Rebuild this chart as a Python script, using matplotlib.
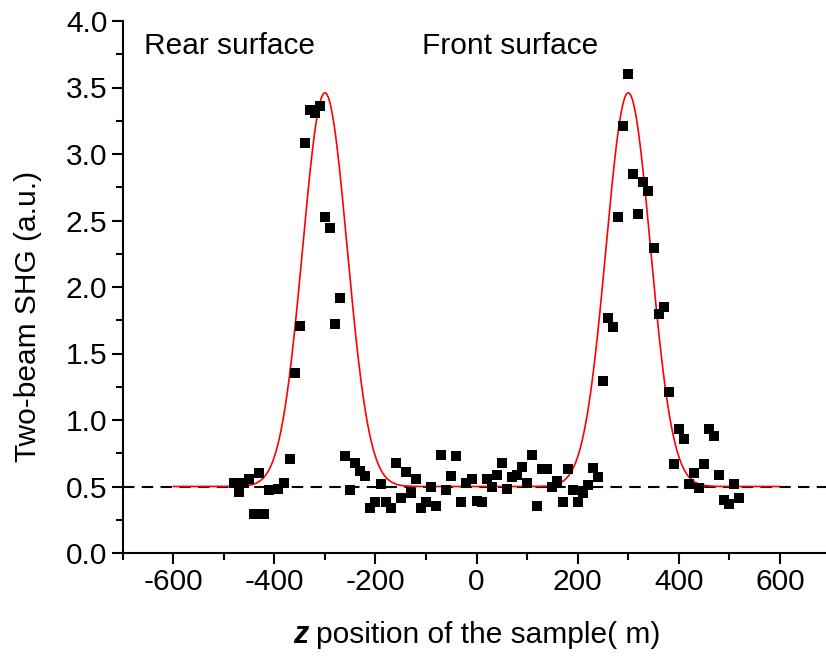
import numpy as np
import matplotlib
matplotlib.use("Agg")
import matplotlib.pyplot as plt
from matplotlib.ticker import MultipleLocator, FormatStrFormatter

plt.rcParams['font.family'] = ['Liberation Sans', 'DejaVu Sans']
plt.rcParams['axes.unicode_minus'] = False

# measured data (z in um, signal in a.u.)
z_pos = [-480, -470, -460, -450, -440, -430, -420, -410, -392, -380,
         -370, -360, -350, -340, -330, -320, -310, -300, -290, -280,
         -270, -260, -250, -240, -230, -220, -210, -200, -190, -180,
         -170, -160, -150, -140, -130, -120, -110, -100, -90, -80,
         -70, -60, -50, -40, -30, -20, -10, 0, 10, 20,
         30, 40, 50, 60, 70, 80, 90, 100, 110, 120,
         130, 140, 150, 160, 170, 180, 190, 200, 210, 220,
         230, 240, 250, 260, 270, 280, 290, 300, 310, 320,
         330, 340, 350, 360, 370, 380, 390, 400, 410, 420,
         430, 440, 450, 460, 470, 480, 490, 500, 510, 520]
shg = [0.53, 0.46, 0.53, 0.56, 0.29, 0.60, 0.29, 0.47, 0.48, 0.53,
       0.71, 1.35, 1.71, 3.08, 3.33, 3.31, 3.36, 2.53, 2.44, 1.72,
       1.92, 0.73, 0.47, 0.68, 0.62, 0.58, 0.34, 0.38, 0.52, 0.38,
       0.34, 0.68, 0.41, 0.61, 0.45, 0.56, 0.34, 0.38, 0.50, 0.35,
       0.74, 0.47, 0.58, 0.73, 0.38, 0.53, 0.56, 0.39, 0.38, 0.56,
       0.50, 0.59, 0.68, 0.48, 0.57, 0.59, 0.65, 0.53, 0.74, 0.35,
       0.63, 0.63, 0.50, 0.54, 0.38, 0.63, 0.47, 0.38, 0.45, 0.51,
       0.64, 0.57, 1.29, 1.77, 1.70, 2.53, 3.21, 3.60, 2.85, 2.55,
       2.79, 2.72, 2.29, 1.80, 1.85, 1.21, 0.67, 0.93, 0.86, 0.52,
       0.60, 0.49, 0.67, 0.93, 0.88, 0.59, 0.40, 0.37, 0.52, 0.41]

# gaussian fit parameters
baseline = 0.5
peak_centers = [-300, 300]
peak_amp = 2.96
peak_sigma = 44
fit_range = (-600, 600)

labels = ["Rear surface", "Front surface"]
label_x = [-658, -108]
label_y = 3.81

fig = plt.figure(figsize=(8.26, 6.62), dpi=100)
ax = fig.add_axes([122.7 / 826, 1 - 553 / 662, (830.5 - 122.7) / 826, (553 - 21) / 662])

zf = np.linspace(fit_range[0], fit_range[1], 1200)
fit = baseline + sum(peak_amp * np.exp(-(zf - c) ** 2 / (2 * peak_sigma ** 2)) for c in peak_centers)

ax.axhline(baseline, color='black', lw=1.5, ls=(0, (5.5, 3.5)), zorder=1)
ax.plot(zf, fit, color='red', lw=1.2, zorder=2)
ax.plot(z_pos, shg, 's', color='black', ms=7.3, mew=0, zorder=3)

for t, x in zip(labels, label_x):
    ax.text(x, label_y, t, fontsize=21.5, va='center', ha='left')

ax.set_xlim(-700, 700)
ax.set_ylim(0, 4.0)
ax.xaxis.set_major_locator(MultipleLocator(200))
ax.xaxis.set_minor_locator(MultipleLocator(100))
ax.yaxis.set_major_locator(MultipleLocator(0.5))
ax.yaxis.set_minor_locator(MultipleLocator(0.25))
ax.yaxis.set_major_formatter(FormatStrFormatter('%.1f'))

for s in ['top', 'right']:
    ax.spines[s].set_visible(False)
for s in ['left', 'bottom']:
    ax.spines[s].set_linewidth(1.5)

ax.tick_params(which='major', direction='out', length=8, width=1.5, labelsize=21.5, pad=3)
ax.tick_params(which='minor', direction='out', length=5, width=1.5)

# x label: bold italic z followed by plain text
fig.text(293 / 826, 1 - 635 / 662, 'z', fontsize=22, fontweight='bold', fontstyle='italic',
         ha='left', va='center')
fig.text(316 / 826, 1 - 635 / 662, 'position of the sample( m)', fontsize=21.5,
         ha='left', va='center')
fig.text(28 / 826, 1 - 316 / 662, 'Two-beam SHG (a.u.)', fontsize=21.5, rotation=90,
         ha='center', va='center')

fig.savefig('out.png', dpi=100)
